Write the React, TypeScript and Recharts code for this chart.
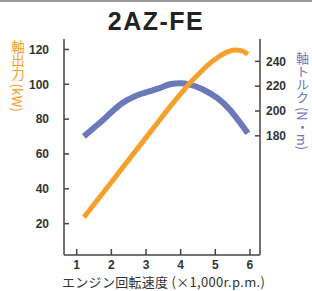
import { ComposedChart, Line, XAxis, YAxis } from "recharts";

const title = "2AZ-FE";
const powerLabel = "軸出力 (kW)";
const torqueLabel = "軸トルク (N・m)";
const rpmLabel = "エンジン回転速度 (×1,000r.p.m.)";

const rpmTicks = [1, 2, 3, 4, 5, 6];
const powerTicks = [20, 40, 60, 80, 100, 120];
const torqueTicks = [180, 200, 220, 240];

const powerRpm = [1.21, 2.0, 2.73, 3.2, 3.69, 4.0, 4.3, 4.6, 4.84, 5.1, 5.35, 5.55, 5.75, 5.94];
const powerKw = [23.7, 43.8, 62.5, 74.5, 87, 94.5, 101.5, 107.5, 112, 115.8, 118.6, 119.7, 119.3, 117.2];

const torqueRpm = [1.21, 1.5, 1.77, 2.0, 2.3, 2.73, 3.0, 3.4, 3.69, 4.0, 4.26, 4.6, 4.84, 5.1, 5.42, 5.65, 5.94];
const torqueNm = [179.5, 186.5, 193, 199, 206, 212.5, 215, 218.5, 221.5, 222.3, 221.3, 218, 214.4, 209.5, 201, 193, 182];

const powerData = powerRpm.map((rpm, i) => ({ rpm, kw: powerKw[i] }));
const torqueData = torqueRpm.map((rpm, i) => ({ rpm, nm: torqueNm[i] }));

const ORANGE = "#f5a02a";
const BLUE = "#6b78ba";
const AXIS = "#444";
const tickStyle = { fontSize: 12, fill: "#333", fontWeight: 600, fontFamily: "Liberation Sans, Arial, sans-serif" };

export default function App() {
  return (
    <div style={{ position: "fixed", left: 0, top: 0, width: 312, height: 291, background: "#fff" }}>
      <div style={{ position: "absolute", left: 0, top: 0, width: 312, height: 2, background: "#999" }} />
      <div
        style={{
          position: "absolute",
          left: 0,
          width: 312,
          top: 7,
          textAlign: "center",
          fontFamily: "Liberation Sans, Arial, sans-serif",
          fontWeight: 700,
          fontSize: 25,
          letterSpacing: 1.5,
          color: "#222",
          lineHeight: "28px",
        }}
      >
        {title}
      </div>
      <div
        style={{
          position: "absolute",
          left: 10,
          top: 40,
          writingMode: "vertical-rl",
          fontFamily: "Noto Sans CJK JP, sans-serif",
          fontSize: 13.5,
          color: ORANGE,
          lineHeight: "16px",
        }}
      >
        {powerLabel}
      </div>
      <div
        style={{
          position: "absolute",
          left: 294,
          top: 52,
          writingMode: "vertical-rl",
          fontFamily: "Noto Sans CJK JP, sans-serif",
          fontSize: 13,
          color: BLUE,
          lineHeight: "16px",
        }}
      >
        {torqueLabel}
      </div>
      <div
        style={{
          position: "absolute",
          left: 62,
          top: 273,
          fontFamily: "Noto Sans CJK JP, sans-serif",
          fontSize: 13,
          letterSpacing: 0.3,
          color: "#333",
          lineHeight: "18px",
          whiteSpace: "nowrap",
        }}
      >
        {rpmLabel}
      </div>
      <ComposedChart width={312} height={291} margin={{ top: 39, right: 0, bottom: 0, left: 0 }}>
        <XAxis
          xAxisId="x"
          dataKey="rpm"
          type="number"
          domain={[0.634, 6.29]}
          ticks={rpmTicks}
          allowDataOverflow
          height={36}
          tickSize={-6}
          tickMargin={11}
          stroke={AXIS}
          strokeWidth={1.5}
          tick={tickStyle}
        />
        <XAxis
          xAxisId="top"
          orientation="top"
          type="number"
          domain={[0, 1]}
          height={0}
          tick={false}
          tickLine={false}
          stroke={AXIS}
          strokeWidth={1.5}
        />
        <YAxis
          yAxisId="kw"
          type="number"
          domain={[2, 126]}
          ticks={powerTicks}
          allowDataOverflow
          width={64}
          tickSize={-5}
          tickMargin={20}
          stroke={AXIS}
          strokeWidth={1.5}
          tick={tickStyle}
        />
        <YAxis
          yAxisId="nm"
          orientation="right"
          type="number"
          domain={[84, 258]}
          ticks={torqueTicks}
          allowDataOverflow
          width={52}
          tickSize={-5}
          tickMargin={11}
          stroke={AXIS}
          strokeWidth={1.5}
          tick={{ ...tickStyle, textAnchor: "start" }}
        />
        <Line
          xAxisId="x"
          yAxisId="nm"
          data={torqueData}
          dataKey="nm"
          type="monotone"
          stroke={BLUE}
          strokeWidth={6}
          dot={false}
          isAnimationActive={false}
        />
        <Line
          xAxisId="x"
          yAxisId="kw"
          data={powerData}
          dataKey="kw"
          type="monotone"
          stroke={ORANGE}
          strokeWidth={5}
          dot={false}
          isAnimationActive={false}
        />
      </ComposedChart>
    </div>
  );
}
